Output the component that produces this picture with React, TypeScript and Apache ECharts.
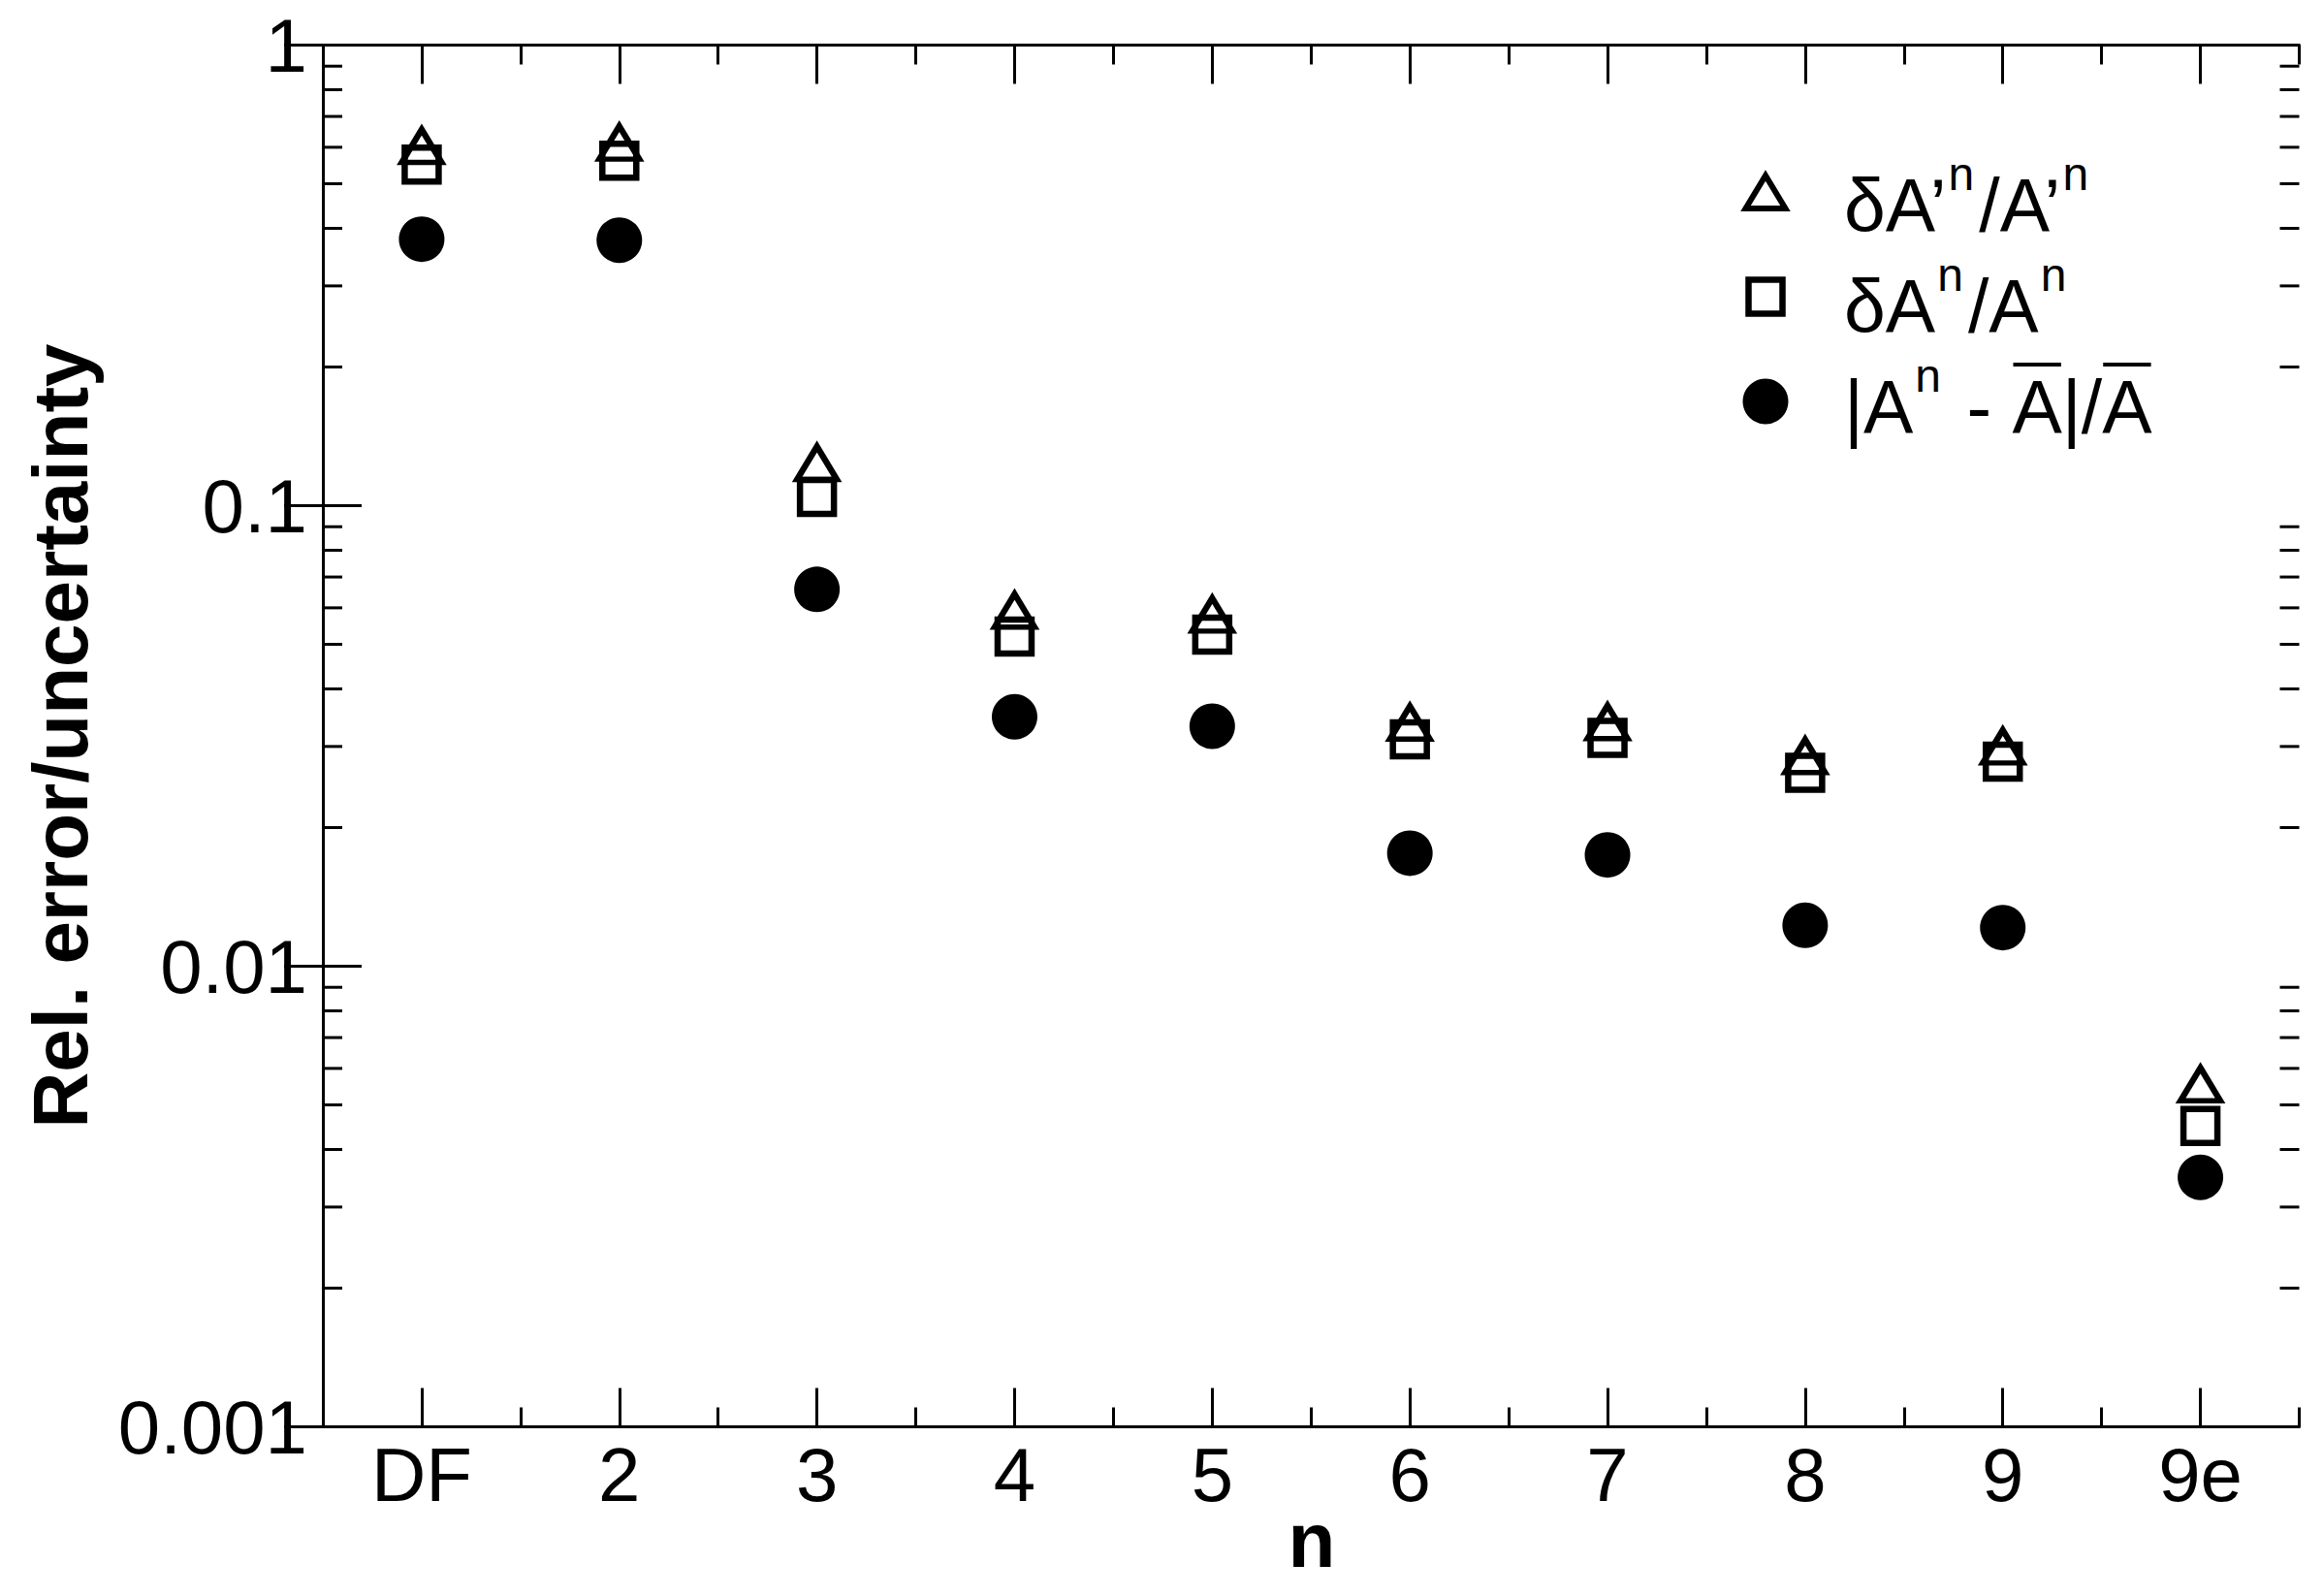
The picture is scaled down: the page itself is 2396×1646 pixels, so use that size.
import React, { useEffect, useRef } from "react";
import * as echarts from "echarts";

const categories = ["DF", "2", "3", "4", "5", "6", "7", "8", "9", "9e"];
// δA'^n / A'^n  (triangles)
const relPrime = [0.604, 0.614, 0.1238, 0.0592, 0.058, 0.0338, 0.0339, 0.0286, 0.03, 0.00554];
// δA^n / A^n  (squares)
const relUnc = [0.55, 0.561, 0.1045, 0.052, 0.0525, 0.0311, 0.0313, 0.0263, 0.0278, 0.0045];
// |A^n - Ā| / Ā  (filled circles)
const relErr = [0.379, 0.377, 0.0658, 0.0348, 0.0332, 0.0176, 0.01745, 0.01227, 0.01213, 0.00348];

const yTickLabels = ["0.001", "0.01", "0.1", "1"];
const yMinorTicks = [
  0.002, 0.003, 0.004, 0.005, 0.006, 0.007, 0.008, 0.009,
  0.02, 0.03, 0.04, 0.05, 0.06, 0.07, 0.08, 0.09,
  0.2, 0.3, 0.4, 0.5, 0.6, 0.7, 0.8, 0.9,
];

const FONT = '"Liberation Sans", Arial, Helvetica, sans-serif';
const W = 2396;
const H = 1646;
const GRID = { left: 333, right: 24.5, top: 46.5, bottom: 174.5 };
const LW = 3;

type Piece = { t: string; sup?: boolean; over?: boolean };
const legendLines: Piece[][] = [
  [{ t: "δA’" }, { t: "n", sup: true }, { t: "/A’" }, { t: "n", sup: true }],
  [{ t: "δA" }, { t: "n", sup: true }, { t: "/A" }, { t: "n", sup: true }],
  [{ t: "|A" }, { t: "n", sup: true }, { t: " - " }, { t: "A", over: true }, { t: "|/" }, { t: "A", over: true }],
];

export default function App() {
  const ref = useRef<HTMLDivElement>(null);

  useEffect(() => {
    document.body.style.margin = "0";
    if (!ref.current) return;
    const chart = echarts.init(ref.current, undefined, { renderer: "svg" });

    const canvas = document.createElement("canvas");
    const ctx = canvas.getContext("2d")!;
    const measure = (s: string, size: number) => {
      ctx.font = `${size}px ${FONT}`;
      return ctx.measureText(s).width;
    };

    const MAIN = 77;
    const SUP = 48;
    const SUP_OFF = 33;
    const textX = 1902;
    const lineMid = [212, 316, 420];
    const symX = 1821;
    const symY = [198, 306, 414];

    const legendGraphics: any[] = [];
    legendLines.forEach((pieces, li) => {
      let x = textX;
      const ym = lineMid[li];
      pieces.forEach((p) => {
        const size = p.sup ? SUP : MAIN;
        const w = measure(p.t, size);
        if (p.sup) x += 2;
        legendGraphics.push({
          type: "text",
          x,
          y: p.sup ? ym - SUP_OFF : ym,
          style: {
            text: p.t,
            fontSize: size,
            fontFamily: FONT,
            fill: "#000",
            align: "left",
            verticalAlign: "middle",
          },
        });
        if (p.over) {
          legendGraphics.push({
            type: "line",
            shape: { x1: x + 1, y1: ym - 44, x2: x + w - 1, y2: ym - 44 },
            style: { stroke: "#000", lineWidth: 4 },
          });
        }
        x += w + (p.sup ? 5 : 0);
      });
    });

    legendGraphics.push(
      {
        type: "polygon",
        shape: {
          points: [
            [symX, symY[0] - 17],
            [symX - 20.5, symY[0] + 17],
            [symX + 20.5, symY[0] + 17],
          ],
        },
        style: { fill: "none", stroke: "#000", lineWidth: 6, lineJoin: "miter", miterLimit: 10 },
      },
      {
        type: "rect",
        shape: { x: symX - 17.5, y: symY[1] - 17.5, width: 35, height: 35 },
        style: { fill: "none", stroke: "#000", lineWidth: 6.5, lineJoin: "miter" },
      },
      {
        type: "circle",
        shape: { cx: symX, cy: symY[2], r: 23.5 },
        style: { fill: "#000" },
      }
    );

    const markerCommon = {
      type: "scatter",
      xAxisIndex: 0,
      yAxisIndex: 0,
      silent: true,
    };

    const option: any = {
      animation: false,
      backgroundColor: "#fff",
      grid: { ...GRID, containLabel: false },
      xAxis: [
        {
          type: "category",
          data: categories,
          position: "bottom",
          boundaryGap: true,
          axisLine: { show: true, lineStyle: { color: "#000", width: LW } },
          axisTick: { show: true, inside: true, alignWithLabel: true, length: 40, lineStyle: { color: "#000", width: LW } },
          axisLabel: { show: true, color: "#000", fontSize: 78, fontFamily: FONT, margin: 10, interval: 0 },
          splitLine: { show: false },
        },
        {
          type: "value",
          min: 0,
          max: 10,
          interval: 1,
          position: "bottom",
          axisLine: { show: false },
          axisTick: { show: true, inside: true, length: 20, lineStyle: { color: "#000", width: LW } },
          axisLabel: { show: false },
          splitLine: { show: false },
        },
        {
          type: "category",
          data: categories,
          position: "top",
          boundaryGap: true,
          axisLine: { show: true, lineStyle: { color: "#000", width: LW } },
          axisTick: { show: true, inside: true, alignWithLabel: true, length: 40, lineStyle: { color: "#000", width: LW } },
          axisLabel: { show: false },
          splitLine: { show: false },
        },
        {
          type: "value",
          min: 0,
          max: 10,
          interval: 1,
          position: "top",
          axisLine: { show: false },
          axisTick: { show: true, inside: true, length: 20, lineStyle: { color: "#000", width: LW } },
          axisLabel: { show: false },
          splitLine: { show: false },
        },
      ],
      yAxis: [
        {
          type: "log",
          logBase: 10,
          min: 0.001,
          max: 1,
          splitNumber: 3,
          position: "left",
          axisLine: { show: true, lineStyle: { color: "#000", width: LW } },
          axisTick: { show: true, inside: true, length: 40, lineStyle: { color: "#000", width: LW } },
          axisLabel: {
            show: true,
            color: "#000",
            fontSize: 78,
            fontFamily: FONT,
            margin: 16,
            formatter: (v: number) => yTickLabels[Math.round(Math.log10(v)) + 3] ?? "",
          },
          splitLine: { show: false },
        },
        {
          type: "log",
          logBase: 10,
          min: 0.001,
          max: 1,
          splitNumber: 3,
          position: "right",
          axisLine: { show: true, lineStyle: { color: "#000", width: LW } },
          axisTick: { show: true, inside: true, length: 40, lineStyle: { color: "#000", width: LW } },
          axisLabel: { show: false },
          splitLine: { show: false },
        },
      ],
      series: [
        {
          type: "custom",
          xAxisIndex: 0,
          yAxisIndex: 0,
          silent: true,
          clip: false,
          data: yMinorTicks.map((v) => [0, v]),
          renderItem: (params: any, api: any) => {
            const pt = api.coord([api.value(0), api.value(1)]);
            const cs = params.coordSys;
            return {
              type: "group",
              children: [
                {
                  type: "line",
                  shape: { x1: cs.x, y1: pt[1], x2: cs.x + 20, y2: pt[1] },
                  style: { stroke: "#000", lineWidth: LW },
                },
                {
                  type: "line",
                  shape: { x1: cs.x + cs.width - 20, y1: pt[1], x2: cs.x + cs.width, y2: pt[1] },
                  style: { stroke: "#000", lineWidth: LW },
                },
              ],
            };
          },
        },
        {
          ...markerCommon,
          name: "relErr",
          data: categories.map((c, i) => [c, relErr[i]]),
          symbol: "circle",
          symbolSize: 47,
          itemStyle: { color: "#000", opacity: 1 },
        },
        {
          ...markerCommon,
          name: "relUnc",
          data: categories.map((c, i) => [c, relUnc[i]]),
          symbol: "rect",
          symbolSize: 35,
          itemStyle: { color: "transparent", borderColor: "#000", borderWidth: 6.5, borderJoin: "miter", opacity: 1 },
        },
        {
          ...markerCommon,
          name: "relPrime",
          data: categories.map((c, i) => [c, relPrime[i]]),
          symbol: "triangle",
          symbolSize: [41, 34],
          itemStyle: { color: "transparent", borderColor: "#000", borderWidth: 6, borderJoin: "miter", borderMiterLimit: 10, opacity: 1 },
        },
      ],
      graphic: [
        {
          type: "text",
          x: 62,
          y: 759,
          rotation: Math.PI / 2,
          style: {
            text: "Rel. error/uncertainty",
            fontSize: 80,
            fontWeight: "bold",
            fontFamily: FONT,
            fill: "#000",
            align: "center",
            verticalAlign: "middle",
          },
        },
        {
          type: "text",
          x: 1353,
          y: 1588,
          style: {
            text: "n",
            fontSize: 80,
            fontWeight: "bold",
            fontFamily: FONT,
            fill: "#000",
            align: "center",
            verticalAlign: "middle",
          },
        },
        ...legendGraphics,
      ],
    };

    chart.setOption(option);
    return () => chart.dispose();
  }, []);

  return <div ref={ref} style={{ width: W, height: H, background: "#fff" }} />;
}
